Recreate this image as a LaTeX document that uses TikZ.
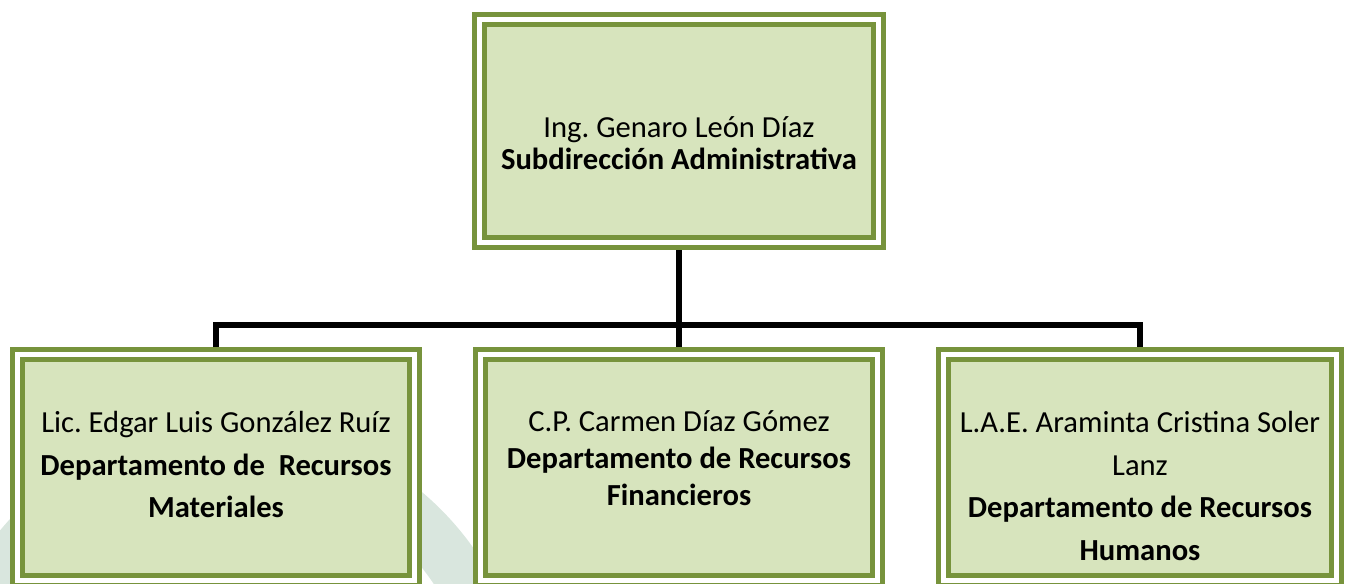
\documentclass[tikz,border=0pt]{standalone}
\usepackage{fontspec}
\setmainfont{Carlito}
\usepackage{tikz}
\usetikzlibrary{positioning}
\definecolor{boxline}{RGB}{119,147,60}
\definecolor{boxfill}{RGB}{215,228,189}
\definecolor{markfill}{RGB}{217,230,222}
\frenchspacing

\begin{document}
\begin{tikzpicture}[x=0.5pt, y=-0.5pt, unitbox/.style={rectangle, draw=boxline, line width=2.5pt, double=white, double distance=2.5pt, fill=boxfill, outer sep=3.75pt, minimum width=198.5pt, minimum height=112.75pt}, headbox/.style={unitbox, minimum width=199.5pt, minimum height=111.5pt}, boxtext/.style={align=center, font=\fontsize{15.3}{16}\selectfont}, widetext/.style={align=center, font=\fontsize{15.3}{21.25}\selectfont}, wire/.style={line width=3pt, black}]

    \useasboundingbox (0,0) rectangle (1347,583);
    \clip (0,0) rectangle (1347,583);

    %Watermark
    \fill[markfill, even odd rule] (230,720) circle (298) (230,720) circle (245);

    %Nodes
    \node[headbox](subdir) at (679,131){};
    \node[unitbox](financ)[below=48.5pt of subdir]{};
    \node[unitbox](mater)[left=25.5pt of financ]{};
    \node[unitbox, minimum width=196.5pt](human)[right=25.5pt of financ]{};

    \node[boxtext](subdir_txt) at ([yshift=-6.1pt]subdir.center){Ing. Genaro León Díaz\\\textbf{Subdirección Administrativa}};
    \node[widetext](mater_txt) at ([yshift=1.25pt]mater.center){Lic. Edgar Luis González Ruíz\\\textbf{Departamento de~ Recursos}\\\textbf{Materiales}};
    \node[boxtext, font=\fontsize{15.3}{18.5}\selectfont](financ_txt) at ([yshift=4.3pt]financ.center){C.P. Carmen Díaz Gómez\\\textbf{Departamento de Recursos}\\\textbf{Financieros}};
    \node[widetext](human_txt) at ([yshift=-9.4pt]human.center){L.A.E. Araminta Cristina Soler\\Lanz\\\textbf{Departamento de Recursos}\\\textbf{Humanos}};

    %Lines
    \coordinate (bus) at (679,324.5);
    \draw[wire] (subdir.south) -- (subdir.south |- financ.north);
    \draw[wire] (mater.north) |- (bus) -| (human.north);

\end{tikzpicture}
\end{document}
